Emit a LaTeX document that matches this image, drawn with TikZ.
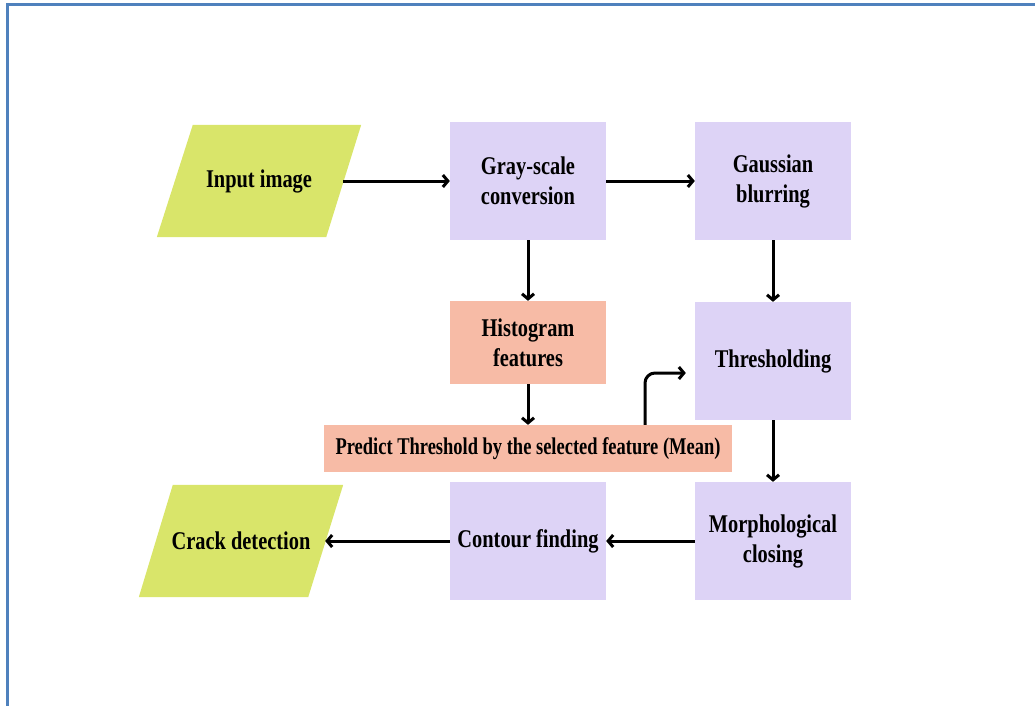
\documentclass[tikz,border=0pt]{standalone}
\usepackage{fontspec}
\setmainfont{Liberation Serif}[FakeStretch=0.8]
\newfontfamily\predfont{Liberation Serif}[FakeStretch=0.77]
\usetikzlibrary{arrows.meta,backgrounds}
\definecolor{pgreen}{RGB}{217,229,106}
\definecolor{ppurple}{RGB}{221,211,246}
\definecolor{psalmon}{RGB}{247,187,166}
\definecolor{pborder}{RGB}{79,129,189}
\tikzset{
  txt/.style={font=\fontsize{25.5}{30}\selectfont\bfseries, align=center, inner sep=0pt},
  procbox/.style={txt, fill=ppurple, minimum width=156pt, minimum height=118pt},
  featbox/.style={txt, fill=psalmon, minimum width=156pt, minimum height=83pt},
  predbox/.style={font=\predfont\fontsize{24}{28}\selectfont\bfseries, fill=psalmon, inner sep=0pt, minimum width=408pt, minimum height=47pt},
  iobox/.style={txt, minimum width=168pt, minimum height=112pt},
  arr/.style={line width=3pt, -{Straight Barb[length=5pt,width=12pt,line width=3pt]}}
}
\begin{document}
\begin{tikzpicture}[x=1pt,y=-1pt]
\useasboundingbox (0,0) rectangle (1035,706);
\draw[pborder, line width=2.5pt] (7.5,706) -- (7.5,4.5) -- (1035,4.5);

\node[iobox] (input) at (259,181) {Input image};
\node[procbox] (gray) at (528,181) {Gray-scale\\conversion};
\node[procbox] (gauss) at (773,181) {Gaussian\\blurring};
\node[featbox] (hist) at (528,342.5) {Histogram\\features};
\node[procbox] (thresh) at (773,361) {Thresholding};
\node[predbox] (pred) at (528,448.5) {Predict Threshold by the selected feature (Mean)};
\node[procbox] (morph) at (773,541) {Morphological\\closing};
\node[procbox] (contour) at (528,541) {Contour finding};
\node[iobox] (crack) at (241,541) {Crack detection};

\begin{scope}[on background layer]
  \fill[pgreen] ([xshift=18pt]input.north west) -- ([xshift=18pt]input.north east)
     -- ([xshift=-17pt]input.south east) -- ([xshift=-18pt]input.south west) -- cycle;
  \fill[pgreen] ([xshift=16pt]crack.north west) -- ([xshift=18pt]crack.north east)
     -- ([xshift=-17pt]crack.south east) -- ([xshift=-18pt]crack.south west) -- cycle;
\end{scope}

\draw[arr] (input.east) -- (gray.west);
\draw[arr] (gray.east) -- (gauss.west);
\draw[arr] (gray.south) -- (hist.north);
\draw[arr] (gauss.south) -- (thresh.north);
\draw[arr] (hist.south) -- (pred.north -| hist.south);
\draw[arr, rounded corners=10pt, shorten >=9pt] ([xshift=117pt]pred.north) |- ([yshift=-12pt]thresh.west);
\draw[arr] (thresh.south) -- (morph.north);
\draw[arr] (morph.west) -- (contour.west -| contour.east);
\draw[arr] (contour.west) -- (crack.east);
\end{tikzpicture}
\end{document}
